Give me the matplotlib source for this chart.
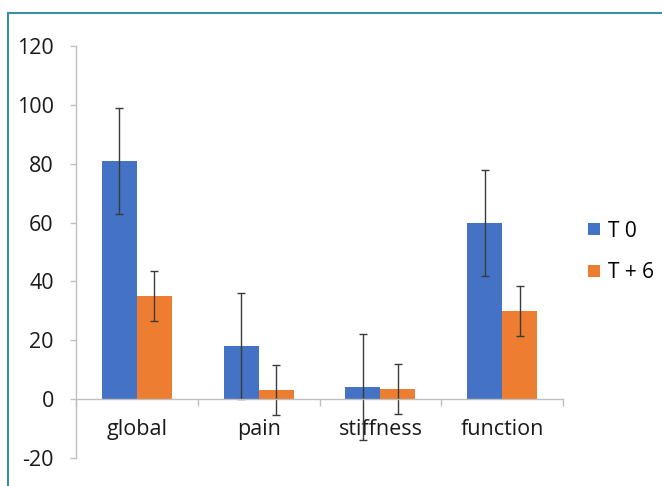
import numpy as np
import matplotlib.pyplot as plt
from matplotlib.lines import Line2D

categories = ['global', 'pain', 'stiffness', 'function']
t0 = [81, 18, 4, 60]
t6 = [35, 3, 3.5, 30]
t0_err = [18, 18, 18, 18]
t6_err = [8.5, 8.5, 8.5, 8.5]
series_labels = ['T 0', 'T + 6']
yticks = [-20, 0, 20, 40, 60, 80, 100, 120]

plt.rcParams['font.family'] = ['Open Sans', 'DejaVu Sans']
plt.rcParams['axes.unicode_minus'] = False

fig = plt.figure(figsize=(6.62, 4.86), dpi=100)
ax = fig.add_axes([76/662, 1 - 458/486, 487/662, 412/486])

x = np.arange(len(categories))
w = 0.287
ax.bar(x - w/2, t0, w, color='#4472C4', label=series_labels[0])
ax.bar(x + w/2, t6, w, color='#ED7D31', label=series_labels[1])
ax.errorbar(x - w/2, t0, yerr=t0_err, fmt='none', ecolor='#3a3a3a',
            elinewidth=1, capsize=3, capthick=1)
ax.errorbar(x + w/2, t6, yerr=t6_err, fmt='none', ecolor='#3a3a3a',
            elinewidth=1, capsize=3, capthick=1)

ax.set_xlim(-0.5, len(categories) - 0.5)
ax.set_ylim(-20, 120)
ax.set_yticks(yticks)
ax.tick_params(axis='y', length=4, width=1, color='#bfbfbf', pad=12,
               labelsize=15.5, labelcolor='#1a1a1a')

# x axis sits on zero; labels at centres, tick marks at boundaries
ax.spines['bottom'].set_position(('data', 0))
ax.set_xticks(x)
ax.set_xticklabels(categories)
ax.set_xticks(np.arange(len(categories) + 1) - 0.5, minor=True)
ax.tick_params(axis='x', which='major', length=0, pad=14, labelsize=15.5,
               labelcolor='#1a1a1a')
ax.tick_params(axis='x', which='minor', length=5, width=1, color='#bfbfbf',
               direction='out')
for s in ['top', 'right']:
    ax.spines[s].set_visible(False)
for s in ['left', 'bottom']:
    ax.spines[s].set_color('#bfbfbf')
    ax.spines[s].set_linewidth(1)

fig.legend(loc='center left', bbox_to_anchor=(580/662, 1 - 252/486),
           frameon=False, fontsize=15, handlelength=0.55, handleheight=0.55,
           handletextpad=0.4, labelspacing=1.0, borderaxespad=0)

# outer frame (left and top edges)
fig.add_artist(Line2D([8/662, 8/662], [0, 1 - 13/486], color='#3b8ea5',
                      lw=1.5, transform=fig.transFigure))
fig.add_artist(Line2D([8/662, 1], [1 - 13/486, 1 - 13/486], color='#3b8ea5',
                      lw=1.5, transform=fig.transFigure))

fig.savefig('out.png', dpi=100)
